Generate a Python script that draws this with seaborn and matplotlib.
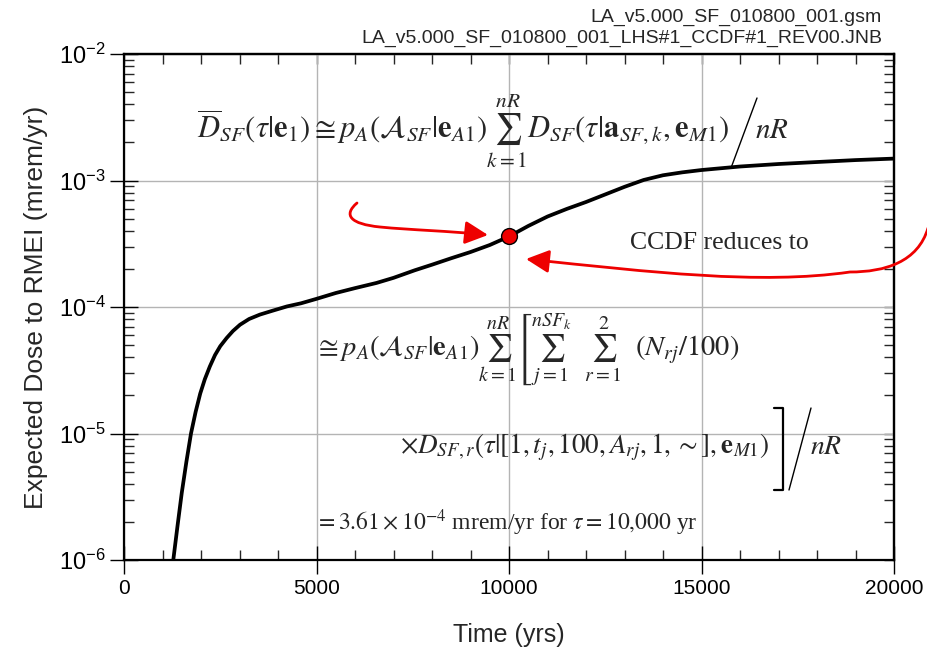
import numpy as np
import pandas as pd
import seaborn as sns
import matplotlib
matplotlib.use("Agg")
import matplotlib.pyplot as plt
from matplotlib.ticker import LogLocator, MultipleLocator, FuncFormatter, NullFormatter, FixedLocator
from matplotlib.patches import FancyArrowPatch
from matplotlib.path import Path
from matplotlib.lines import Line2D

# ---------------- data ----------------
time_yrs = [1280, 1390, 1500, 1620, 1740, 1860, 1980, 2100, 2230, 2364, 2500,
            2667, 2830, 3013, 3250, 3530, 3850, 4230, 4600, 5000, 5500, 6000,
            6560, 7000, 7550, 8000, 8500, 9000, 9500, 10000, 10500, 11000,
            11500, 12000, 12500, 13000, 13500, 14000, 14500, 15000, 16000,
            17000, 18000, 19000, 20000]
dose_mrem = [1.00e-6, 1.86e-6, 3.39e-6, 5.96e-6, 1.00e-5, 1.48e-5, 2.07e-5,
             2.69e-5, 3.39e-5, 4.17e-5, 4.90e-5, 5.69e-5, 6.46e-5, 7.24e-5,
             8.04e-5, 8.71e-5, 9.33e-5, 1.01e-4, 1.07e-4, 1.16e-4, 1.29e-4,
             1.41e-4, 1.55e-4, 1.70e-4, 1.95e-4, 2.16e-4, 2.43e-4, 2.72e-4,
             3.09e-4, 3.61e-4, 4.37e-4, 5.19e-4, 5.96e-4, 6.76e-4, 7.76e-4,
             8.91e-4, 1.01e-3, 1.10e-3, 1.16e-3, 1.21e-3, 1.29e-3, 1.35e-3,
             1.40e-3, 1.45e-3, 1.49e-3]
marker_time = [10000]
marker_dose = [3.61e-4]
x_ticks = [0, 5000, 10000, 15000, 20000]
y_decades = [1e-6, 1e-5, 1e-4, 1e-3, 1e-2]
header_lines = ["LA_v5.000_SF_010800_001.gsm",
                "LA_v5.000_SF_010800_001_LHS#1_CCDF#1_REV00.JNB"]
x_label = "Time (yrs)"
y_label = "Expected Dose to RMEI (mrem/yr)"
ccdf_text = "CCDF reduces to"

# ---------------- style ----------------
sns.set_style("ticks")
plt.rcParams["font.family"] = ["Liberation Sans", "DejaVu Sans"]
plt.rcParams["mathtext.fontset"] = "stix"

W, H = 927, 656
fig = plt.figure(figsize=(W / 100, H / 100), dpi=100)

def fx(px):
    return px / W

def fy(py):
    return 1 - py / H

ax = fig.add_axes([fx(124), fy(560), fx(894) - fx(124), fy(54) - fy(560)])

df = pd.DataFrame({"t": time_yrs, "d": dose_mrem})
sns.lineplot(data=df, x="t", y="d", ax=ax, color="black", linewidth=2.7,
             zorder=4, legend=False)
dm = pd.DataFrame({"t": marker_time, "d": marker_dose})
sns.scatterplot(data=dm, x="t", y="d", ax=ax, color="#ee0000", edgecolor="black",
                linewidth=1.0, s=130, zorder=6, legend=False)

ax.set_yscale("log")
ax.set_xlim(0, 20000)
ax.set_ylim(1e-6, 1e-2)

ax.xaxis.set_major_locator(FixedLocator(x_ticks))
ax.xaxis.set_minor_locator(MultipleLocator(1000))
ax.yaxis.set_major_locator(FixedLocator(y_decades))
ax.yaxis.set_minor_locator(LogLocator(base=10, subs=np.arange(2, 10)))
ax.yaxis.set_minor_formatter(NullFormatter())

def yfmt(v, pos):
    e = int(round(np.log10(v)))
    return r"$\mathregular{10^{%d}}$" % e

ax.yaxis.set_major_formatter(FuncFormatter(yfmt))
ax.xaxis.set_major_formatter(FuncFormatter(lambda v, p: "%d" % v))

ax.grid(which="major", color="#b4b4b4", linewidth=1.0, zorder=0)
for s in ax.spines.values():
    s.set_linewidth(1.6)
    s.set_color("black")

ax.tick_params(which="major", direction="inout", length=20, width=1.0,
               labelsize=15, pad=4, colors="black")
ax.tick_params(which="minor", direction="in", length=7, width=1.0)
ax.tick_params(axis="y", which="major", labelsize=17, pad=3)

top = ax.secondary_xaxis("top")
top.xaxis.set_major_locator(MultipleLocator(1000))
top.xaxis.set_major_formatter(NullFormatter())
top.tick_params(direction="in", length=7, width=1.0)
top.spines["top"].set_linewidth(1.6)

right = ax.secondary_yaxis("right")
right.set_yscale("log")
right.yaxis.set_major_locator(LogLocator(base=10, subs=np.arange(1, 10)))
right.yaxis.set_minor_locator(LogLocator(base=10, subs=np.arange(1, 10)))
right.yaxis.set_major_formatter(NullFormatter())
right.yaxis.set_minor_formatter(NullFormatter())
right.tick_params(which="both", direction="in", length=7, width=1.0)
right.spines["right"].set_linewidth(1.6)

ax.set_xlabel(x_label, fontsize=18, labelpad=18)
ax.set_ylabel(y_label, fontsize=19, labelpad=8)

# header
fig.text(fx(882), fy(17), header_lines[0], ha="right", va="center", fontsize=14)
fig.text(fx(882), fy(38), header_lines[1], ha="right", va="center", fontsize=14)

# ---------------- equations ----------------
serif = ["Liberation Serif", "DejaVu Serif"]
eq1 = (r"$\overline{D}_{SF}(\tau|\mathbf{e}_1)\cong p_A(\mathcal{A}_{SF}|\mathbf{e}_{A1})"
       r"\sum_{k=1}^{nR} D_{SF}(\tau|\mathbf{a}_{SF,k},\mathbf{e}_{M1})$")
fig.text(fx(197), fy(131), eq1, ha="left", va="center", fontsize=22, family=serif)
fig.add_artist(Line2D([fx(757), fx(731)], [fy(98), fy(168)], color="black", lw=1.0))
fig.text(fx(755), fy(131), r"$nR$", ha="left", va="center", fontsize=21, family=serif)

eq2 = (r"$\cong p_A(\mathcal{A}_{SF}|\mathbf{e}_{A1})\sum_{k=1}^{nR}\left[\sum_{j=1}^{nSF_k}"
       r"\ \ \sum_{r=1}^{2}\ \ (N_{rj}/100)\right.$")
fig.text(fx(314), fy(350), eq2, ha="left", va="center", fontsize=20.5, family=serif)

eq3 = r"$\times D_{SF,r}(\tau|[1,t_j,100,A_{rj},1,\sim],\mathbf{e}_{M1})$"
fig.text(fx(400), fy(447), eq3, ha="left", va="center", fontsize=19.5, family=serif)
fig.add_artist(Line2D([fx(774), fx(783), fx(783), fx(774)],
                      [fy(408), fy(408), fy(490), fy(490)], color="black", lw=1.6))
fig.add_artist(Line2D([fx(811), fx(789)], [fy(408), fy(490)], color="black", lw=1.0))
fig.text(fx(810), fy(447), r"$nR$", ha="left", va="center", fontsize=20, family=serif)

eq4 = r"$=3.61\times10^{-4}$ mrem/yr for $\tau=10{,}000$ yr"
fig.text(fx(315), fy(523), eq4, ha="left", va="center", fontsize=17, family=serif)

fig.text(fx(630), fy(243), ccdf_text, ha="left", va="center", fontsize=18.5, family=serif)

# ---------------- red arrows ----------------
def curve_arrow(pts):
    verts = [(fx(x), fy(y)) for x, y in pts]
    codes = [Path.MOVETO] + [Path.CURVE4] * (len(verts) - 1)
    p = Path(verts, codes)
    arr = FancyArrowPatch(path=p, arrowstyle="-|>,head_length=7,head_width=3.5",
                          color="#ee0000", lw=2.0, transform=fig.transFigure,
                          mutation_scale=2)
    fig.add_artist(arr)

curve_arrow([(357, 203), (343, 215), (350, 224), (380, 227),
             (410, 230), (450, 231), (488, 235)])
curve_arrow([(928, 228), (918, 262), (885, 272), (850, 272),
             (760, 285), (650, 272), (526, 259)])

fig.savefig("out.png", dpi=100)
